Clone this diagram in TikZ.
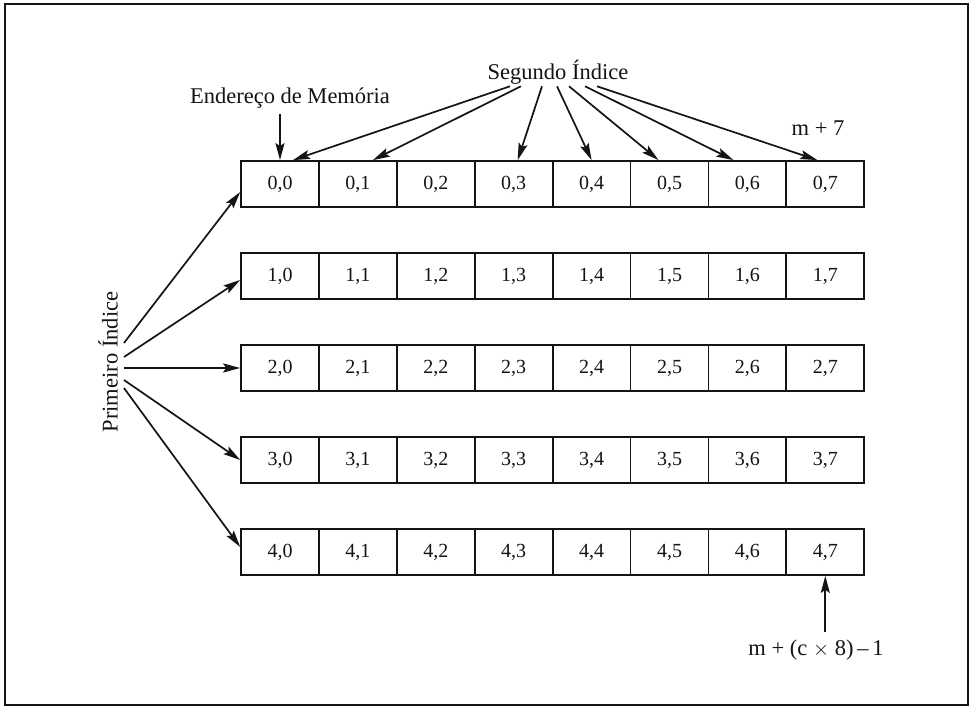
\documentclass[tikz,border=0pt]{standalone}
\usepackage{fontspec}
\setmainfont{Liberation Serif}
\usepackage{xcolor}
\usepackage{tikz}
\usetikzlibrary{calc,arrows.meta}
\definecolor{ink}{HTML}{141414}
\definecolor{paper}{HTML}{FFFFFF}
\tikzset{
  cell/.style  = {draw=ink, line width=1.8pt, minimum width=77.9pt, minimum height=46pt,
                  inner sep=0pt, font=\fontsize{20}{22}\selectfont\color{ink}},
  lab/.style   = {font=\fontsize{22.5}{25}\selectfont\color{ink}, inner sep=2pt},
  ptr/.style   = {-{Stealth[length=17pt,width=9pt,inset=3pt]}, draw=ink, line width=1.7pt},
  frame/.style = {draw=ink, line width=2.6pt},
}

\begin{document}
\begin{tikzpicture}[x=1pt,y=1pt]
\path[use as bounding box, fill=paper] (0,0) rectangle (975,709);

% outer frame
\draw[frame] (5,4) rectangle (968,705);

% ---------- the 5 x 8 array, row by row ---------------------------------
\foreach \r in {0,...,4}{
  \foreach \c in {0,...,7}{
    \node[cell] (c\r\c) at ({280+77.9*\c},{525-92*\r}) {\r,\c};
  }
}

% ---------- labels ------------------------------------------------------
\node[lab] (seg)    at (558,637) {Segundo Índice};
\node[lab] (addr)   at (290,611) {Endereço de Memória};
\node[lab] (mseven) at (818,581) {m + 7};
\node[lab, rotate=90] (pri) at (108,347) {Primeiro Índice};
\node[lab] (last)   at (816,59)  {m + (c \(\times\) 8)\,–\,1};

% second index: one arrow per column of the first row
\draw[ptr] ([xshift=-48]seg.south) -- ([xshift=13]c00.north);
\draw[ptr] ([xshift=-37]seg.south) -- ([xshift=15]c01.north);
\draw[ptr] ([xshift=-16]seg.south) -- ([xshift=4]c03.north);
\draw[ptr] ([xshift=-1]seg.south)  -- (c04.north);
\draw[ptr] ([xshift=11]seg.south)  -- ([xshift=-11]c05.north);
\draw[ptr] ([xshift=27]seg.south)  -- ([xshift=-14]c06.north);
\draw[ptr] ([xshift=39]seg.south)  -- ([xshift=-8]c07.north);

% memory address of the first element
\draw[ptr] ([xshift=-10,yshift=-4]addr.south) -- (c00.north);

% first index: one arrow per row
\draw[ptr] ([xshift=4,yshift=19]pri.south)  -- ([yshift=-8]c00.west);
\draw[ptr] ([xshift=4,yshift=5]pri.south)   -- ([yshift=-4]c10.west);
\draw[ptr] ([xshift=4,yshift=-6]pri.south)  -- (c20.west);
\draw[ptr] ([xshift=4,yshift=-18]pri.south) -- (c30.west);
\draw[ptr] ([xshift=4,yshift=-26]pri.south) -- ([yshift=5]c40.west);

% last element
\draw[ptr] ([yshift=6]last.north -| c47.south) -- (c47.south);

\end{tikzpicture}
\end{document}
